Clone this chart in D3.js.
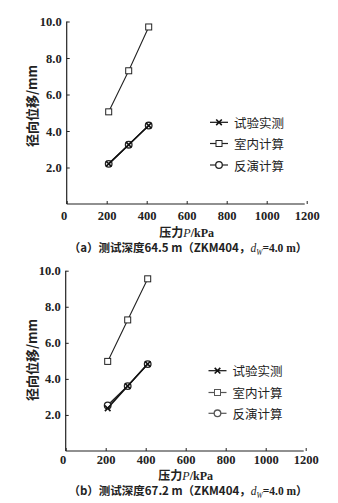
<!DOCTYPE html>
<html><head><meta charset="utf-8">
<script src="https://cdn.jsdelivr.net/npm/d3@7"></script>
<style>
html,body{margin:0;padding:0;background:#fff;}
svg{display:block;}
</style>
</head><body>
<svg id="c" width="338" height="503"></svg>
<script>
// ---- data ----
const pressure = [210, 310, 410];
const xTicks = [0, 200, 400, 600, 800, 1000, 1200];
const yTicks = [2, 4, 6, 8, 10];
const seriesNames = ["试验实测", "室内计算", "反演计算"];
const aMeasured = [2.2, 3.25, 4.3];
const aLab = [5.05, 7.3, 9.7];
const aBack = [2.2, 3.25, 4.3];
const bMeasured = [2.37, 3.6, 4.82];
const bLab = [4.97, 7.27, 9.55];
const bBack = [2.53, 3.6, 4.82];
const captions = ["（a）测试深度64.5 m（ZKM404，", "（b）测试深度67.2 m（ZKM404，"];

const SERIF = '"Liberation Serif","Times New Roman",serif';
const CJK = '"Noto Sans CJK SC",sans-serif';
const svg = d3.select("#c");

function num(sel, size, bold, italic) {
  return sel.style("font-family", SERIF).style("font-size", size + "px")
    .style("font-weight", bold ? "bold" : "normal").style("font-style", italic ? "italic" : "normal").style("fill", "#222");
}

function panel(p, measured, lab, back, caption) {
  const x = d3.scaleLinear().domain([0, 1200]).range([p.x0, p.x1]);
  const y = d3.scaleLinear().domain([0, 10]).range([p.y0, p.y10]);
  const g = svg.append("g");
  // axes
  const xa = g.append("g").attr("transform", `translate(0,${p.y0})`)
    .call(d3.axisBottom(x).tickValues(xTicks).tickSizeInner(-3).tickSizeOuter(0).tickPadding(p.xPad).tickFormat(d3.format("d")));
  xa.select(".domain").attr("stroke", "#222").attr("stroke-width", 1.2).attr("d", `M${p.x0},0H${p.x1 - 2}`);
  xa.selectAll(".tick line").attr("stroke", "#222");
  num(xa.selectAll(".tick text"), 12.5, true, false).attr("dx", d => d === 0 ? -3 : 0);
  const ya = g.append("g").attr("transform", `translate(${p.x0},0)`)
    .call(d3.axisLeft(y).tickValues(yTicks).tickSizeInner(-3).tickSizeOuter(0).tickPadding(5).tickFormat(d3.format(".1f")));
  ya.select(".domain").attr("stroke", "#222").attr("stroke-width", 1.2).attr("d", `M0,${p.y0}V${p.y10}`);
  ya.selectAll(".tick line").attr("stroke", "#222");
  num(ya.selectAll(".tick text"), 12.5, true, false);
  // axis titles
  g.append("text").style("font-family", CJK).style("font-size", "13px").style("font-weight", "bold").style("fill", "#222")
    .attr("transform", `translate(${p.yTitleX},${p.yTitleY}) rotate(-90)`).attr("text-anchor", "middle")
    .attr("dominant-baseline", "central").text("径向位移/mm");
  const xt = g.append("text").attr("x", (p.x0 + p.x1) / 2).attr("y", p.xTitleY).attr("text-anchor", "middle")
    .style("font-family", CJK).style("font-size", "12px").style("font-weight", "bold").style("fill", "#222");
  xt.append("tspan").text("压力");
  num(xt.append("tspan"), 12, false, true).text("P");
  num(xt.append("tspan"), 12, true, false).text("/kPa");
  const ct = g.append("text").attr("x", p.capX).attr("y", p.capY).attr("text-anchor", "middle")
    .style("font-family", CJK).style("font-size", "11.5px").style("font-weight", "bold").style("fill", "#222");
  ct.append("tspan").text(caption);
  num(ct.append("tspan"), 11.5, false, true).text("d");
  num(ct.append("tspan"), 7.5, false, true).attr("dy", 2.5).text("W");
  num(ct.append("tspan"), 11.5, true, false).attr("dy", -2.5).text("=4.0 m");
  ct.append("tspan").text("）");

  const line = d3.line().x((d, i) => x(pressure[i])).y(d => y(d));
  const sets = [
    { vals: lab, type: "square", color: "#222", w: 1.1 },
    { vals: back, type: "circle", color: "#222", w: 1.5 },
    { vals: measured, type: "cross", color: "#111", w: 1.5 }
  ];
  function marker(sel, type, cx, cy, color) {
    if (type === "square") {
      sel.append("rect").attr("x", cx - 3).attr("y", cy - 3).attr("width", 6).attr("height", 6)
        .attr("fill", "#fff").attr("stroke", color).attr("stroke-width", 1);
    } else if (type === "circle") {
      sel.append("circle").attr("cx", cx).attr("cy", cy).attr("r", 3.3)
        .attr("fill", "#fff").attr("stroke", color).attr("stroke-width", 1.3);
    } else {
      sel.append("path").attr("d", `M${cx - 2.8},${cy - 2.8}L${cx + 2.8},${cy + 2.8}M${cx - 2.8},${cy + 2.8}L${cx + 2.8},${cy - 2.8}`)
        .attr("stroke", color).attr("stroke-width", 1.6);
    }
  }
  sets.forEach(s => {
    g.append("path").attr("d", line(s.vals)).attr("fill", "none").attr("stroke", s.color).attr("stroke-width", s.w);
    s.vals.forEach((v, i) => marker(g, s.type, x(pressure[i]), y(v), s.color));
  });
  // legend
  const legTypes = ["cross", "square", "circle"];
  seriesNames.forEach((n, i) => {
    const ly = p.legY[i];
    g.append("line").attr("x1", p.legX).attr("x2", p.legX + 18).attr("y1", ly).attr("y2", ly)
      .attr("stroke", i === 0 ? "#111" : p.legGray).attr("stroke-width", 1.2);
    marker(g, legTypes[i], p.legX + 9, ly, i === 0 ? "#111" : p.legGray);
    g.append("text").style("font-family", CJK).style("font-size", "12.5px").style("fill", "#222")
      .attr("x", p.legX + 24).attr("y", ly).attr("dominant-baseline", "central").text(n);
  });
}

panel({ x0: 66.7, x1: 306.7, y0: 204, y10: 21.5, xPad: 7, yTitleX: 31, yTitleY: 106, xTitleY: 237, capX: 188, capY: 252,
  legX: 210, legY: [122.3, 143.5, 165], legGray: "#222" }, aMeasured, aLab, aBack, captions[0]);
panel({ x0: 65.7, x1: 305.7, y0: 451, y10: 270.7, xPad: 4, yTitleX: 31, yTitleY: 360, xTitleY: 479.5, capX: 188, capY: 495,
  legX: 208.5, legY: [370.7, 392.5, 413.3], legGray: "#555" }, bMeasured, bLab, bBack, captions[1]);
</script>
</body></html>
